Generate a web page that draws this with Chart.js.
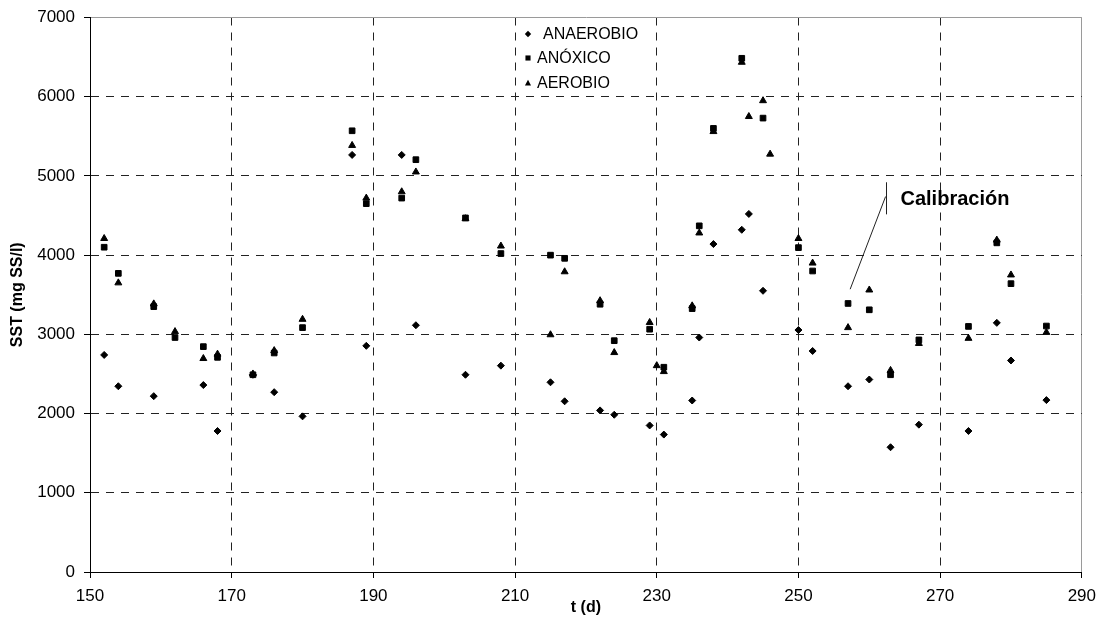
<!DOCTYPE html>
<html>
<head>
<meta charset="utf-8">
<title>SST</title>
<script src="https://cdn.jsdelivr.net/npm/chart.js@4/dist/chart.umd.min.js"></script>
<style>
  body { margin: 0; background: #fff; }
  canvas { display: block; }
</style>
</head>
<body>
<canvas id="sstChart" width="1104" height="622"></canvas>
<script>
// dias y valores
var anaerobioDias = [152, 154, 159, 166, 168, 173, 176, 180, 187, 189, 194, 196, 203, 208, 215, 217, 222, 224, 229, 231,
    235, 236, 238, 242, 243, 245, 250, 252, 257, 260, 263, 267, 274, 278, 280, 285];
var anaerobioSST = [2740, 2345, 2220, 2360, 1780, 2490, 2270, 1965, 5265, 2855, 5265, 3115, 2490, 2605, 2395, 2155, 2040, 1985, 1850, 1735,
    2165, 2960, 4140, 4320, 4520, 3550, 3055, 2790, 2345, 2430, 1575, 1860, 1780, 3145, 2670, 2170];

var anoxicoDias = [152, 154, 159, 162, 166, 168, 173, 176, 180, 187, 189, 194, 196, 203, 208, 215, 217, 222, 224, 229, 231,
    235, 236, 238, 242, 245, 250, 252, 257, 260, 263, 267, 274, 278, 280, 285];
var anoxicoSST = [4100, 3770, 3350, 2960, 2845, 2710, 2490, 2765, 3085, 5570, 4650, 4720, 5205, 4470, 4020, 4000, 3960, 3380, 2920, 3065, 2585,
    3325, 4370, 5600, 6485, 5730, 4095, 3800, 3390, 3310, 2490, 2930, 3100, 4155, 3640, 3105];

var aerobioDias = [152, 154, 159, 162, 166, 168, 173, 176, 180, 187, 189, 194, 196, 203, 208, 215, 217, 222, 224, 229, 230, 231,
    235, 236, 238, 242, 243, 245, 246, 250, 252, 257, 260, 263, 267, 274, 278, 280, 285];
var aerobioSST = [4210, 3650, 3385, 3035, 2695, 2750, 2500, 2795, 3190, 5385, 4720, 4800, 5050, 4460, 4115, 2995, 3790, 3425, 2770, 3150, 2605, 2530,
    3360, 4280, 5560, 6435, 5750, 5950, 5275, 4210, 3900, 3085, 3560, 2545, 2885, 2950, 4190, 3750, 3025];

var serieNombres = ['ANAEROBIO', 'ANÓXICO', 'AEROBIO'];
var serieMarcas = ['rectRot', 'rect', 'triangle'];

// nota "Calibración" (en unidades de los ejes)
var notaTexto = 'Calibración';
var notaPalo = [262.3, 4920, 4515];
var notaFlecha = [262.3, 4740, 257.3, 3570];

function toPoints(xs, ys) {
    var pts = [];
    for (var i = 0; i < xs.length; i++) {
        pts.push({ x: xs[i], y: ys[i] });
    }
    return pts;
}

Chart.defaults.font.family = '"Liberation Sans", Arial, sans-serif';
Chart.defaults.color = '#000';

var dashed = function(c) {
    return (c.tick && (c.tick.value === 7000 || c.tick.value === 290)) ? [] : [8, 7];
};
var gridColor = function(c) {
    return (c.tick && (c.tick.value === 7000 || c.tick.value === 290)) ? '#9a9a9a' : '#222';
};

function marker(ctx, style, x, y, r) {
    ctx.beginPath();
    if (style === 'rectRot') {
        ctx.moveTo(x, y - r); ctx.lineTo(x + r, y); ctx.lineTo(x, y + r); ctx.lineTo(x - r, y);
    } else if (style === 'rect') {
        ctx.rect(x - r * 0.8, y - r * 0.8, r * 1.6, r * 1.6);
    } else {
        ctx.moveTo(x, y - r); ctx.lineTo(x + r * 0.95, y + r * 0.75); ctx.lineTo(x - r * 0.95, y + r * 0.75);
    }
    ctx.closePath();
    ctx.fill();
}

var extras = {
    id: 'extras',
    afterDraw: function(chart) {
        var ctx = chart.ctx;
        var xs = chart.scales.x, ys = chart.scales.y;
        ctx.save();
        // leyenda
        ctx.fillStyle = '#000';
        ctx.font = '16px "Liberation Sans", Arial, sans-serif';
        ctx.textBaseline = 'middle';
        var lx = 528, ly = [34, 58, 83], tx = [543, 537, 537];
        for (var i = 0; i < serieNombres.length; i++) {
            marker(ctx, serieMarcas[i], lx, ly[i], 3.2);
            ctx.fillText(serieNombres[i], tx[i], ly[i] + 1);
        }
        // nota calibracion
        ctx.strokeStyle = '#222';
        ctx.lineWidth = 1;
        var px = Math.round(xs.getPixelForValue(notaPalo[0])) + 0.5;
        ctx.beginPath();
        ctx.moveTo(px, ys.getPixelForValue(notaPalo[1]));
        ctx.lineTo(px, ys.getPixelForValue(notaPalo[2]));
        ctx.moveTo(xs.getPixelForValue(notaFlecha[0]), ys.getPixelForValue(notaFlecha[1]));
        ctx.lineTo(xs.getPixelForValue(notaFlecha[2]), ys.getPixelForValue(notaFlecha[3]));
        ctx.stroke();
        ctx.font = 'bold 20px "Liberation Sans", Arial, sans-serif';
        ctx.textBaseline = 'middle';
        ctx.fillText(notaTexto, px + 14, ys.getPixelForValue(4700));
        ctx.restore();
    }
};

var chart = new Chart(document.getElementById('sstChart'), {
    type: 'scatter',
    data: {
        datasets: [{
            label: serieNombres[0],
            data: toPoints(anaerobioDias, anaerobioSST),
            pointStyle: 'rectRot',
            pointRadius: 3.5,
            backgroundColor: '#000',
            borderColor: '#000',
            borderWidth: 1
        }, {
            label: serieNombres[1],
            data: toPoints(anoxicoDias, anoxicoSST),
            pointStyle: 'rect',
            pointRadius: 4,
            backgroundColor: '#000',
            borderColor: '#000',
            borderWidth: 1
        }, {
            label: serieNombres[2],
            data: toPoints(aerobioDias, aerobioSST),
            pointStyle: 'triangle',
            pointRadius: 4,
            backgroundColor: '#000',
            borderColor: '#000',
            borderWidth: 1
        }]
    },
    options: {
        responsive: false,
        animation: false,
        layout: { padding: { left: 0, right: 17, top: 14, bottom: 0 } },
        plugins: {
            legend: { display: false },
            tooltip: { enabled: false }
        },
        scales: {
            x: {
                type: 'linear',
                min: 150,
                max: 290,
                ticks: { stepSize: 20, padding: 8, font: { size: 17 }, maxRotation: 0,
                    callback: function(v) { return String(v); } },
                grid: { color: gridColor, tickColor: '#000', tickLength: 6, lineWidth: 1 },
                border: { display: true, color: '#000', width: 1, dash: dashed },
                title: { display: true, text: 't (d)', font: { size: 16, weight: 'bold' }, padding: { top: 0, bottom: 5 } },
                afterFit: function(s) { s.height = 50; }
            },
            y: {
                min: 0,
                max: 7000,
                ticks: { stepSize: 1000, padding: 9, font: { size: 17, lineHeight: 1 },
                    callback: function(v) { return String(v); } },
                grid: { color: gridColor, tickColor: '#000', tickLength: 6, lineWidth: 1 },
                border: { display: true, color: '#000', width: 1, dash: dashed },
                title: { display: true, text: 'SST (mg SS/l)', font: { size: 16, weight: 'bold' }, padding: { top: 8, bottom: 0 } },
                afterFit: function(s) { s.width = 90; }
            }
        }
    },
    plugins: [extras]
});
</script>
</body>
</html>
